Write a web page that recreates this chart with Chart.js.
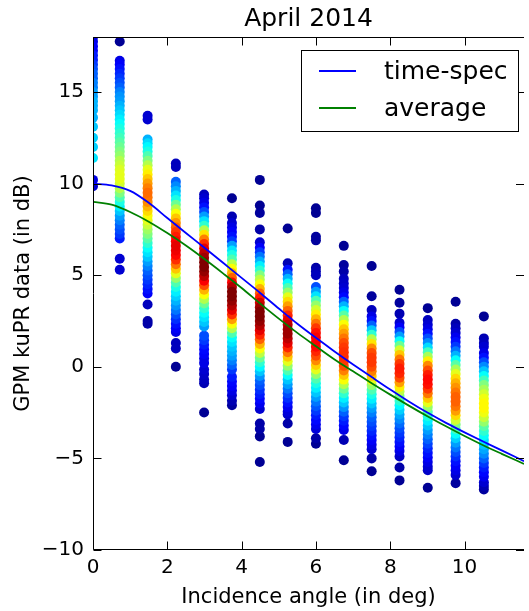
<!DOCTYPE html>
<html>
<head>
<meta charset="utf-8">
<script src="https://cdn.jsdelivr.net/npm/chart.js@4/dist/chart.umd.min.js"></script>
<style>
html,body{margin:0;padding:0;background:#fff;overflow:hidden;}
canvas{display:block;}
</style>
</head>
<body>
<canvas id="c" width="529" height="611"></canvas>
<script>
// ---- data ----
const chartTitle = 'April 2014';
const xLabel = 'Incidence angle (in deg)';
const yLabel = 'GPM kuPR data (in dB)';
const seriesNames = ['time-spec', 'average'];
const xTicks = [0, 2, 4, 6, 8, 10];
const yTicks = [-10, -5, 0, 5, 10, 15];

// incidence angle of each scatter column
const columnAngles = [0, 0.72, 1.47, 2.23, 2.99, 3.74, 4.49, 5.24, 6.0, 6.75, 7.5, 8.25, 9.01, 9.76, 10.52];

// each column: [value in dB, relative point density 0..1]
const col01 = [[18.0,.08],[17.75,.1],[17.5,.12],[17.25,.12],[17.0,.15],[16.75,.15],[16.5,.18],[16.25,.2],[16.0,.22],[15.75,.22],[15.5,.25],[15.25,.25],[15.0,.28],[14.75,.28],[14.5,.3],[14.25,.3],[14.0,.3],[13.6,.3],[13.1,.32],[12.5,.33],[12.0,.33],[11.4,.35],[10.2,.1],[9.85,.08]];
const col02 = [[17.75,.02],[16.7,.1],[16.5,.12],[16.25,.14],[16.0,.16],[15.75,.18],[15.5,.2],[15.25,.22],[15.0,.25],[14.75,.27],[14.5,.28],[14.25,.3],[14.0,.32],[13.75,.34],[13.5,.36],[13.25,.38],[13.0,.4],[12.75,.42],[12.5,.44],[12.25,.46],[12.0,.48],[11.75,.5],[11.5,.52],[11.25,.55],[11.0,.57],[10.75,.59],[10.5,.6],[10.25,.6],[10.0,.58],[9.75,.55],[9.5,.5],[9.25,.45],[9.0,.4],[8.75,.36],[8.5,.32],[8.25,.28],[8.0,.25],[7.75,.22],[7.5,.2],[7.25,.18],[7.0,.15],[5.9,.08],[5.3,.08]];
const col03 = [[13.7,.08],[13.5,.08],[12.4,.3],[12.2,.34],[12.0,.37],[11.75,.4],[11.5,.45],[11.25,.5],[11.0,.55],[10.75,.6],[10.5,.64],[10.25,.68],[10.0,.72],[9.75,.75],[9.5,.77],[9.25,.76],[9.0,.74],[8.75,.7],[8.5,.66],[8.25,.62],[8.0,.6],[7.75,.57],[7.5,.53],[7.25,.5],[7.0,.46],[6.75,.42],[6.5,.38],[6.25,.35],[6.0,.32],[5.75,.28],[5.5,.25],[5.25,.22],[5.0,.2],[4.75,.18],[4.5,.16],[4.25,.14],[4.0,.12],[3.4,.06],[2.5,.04],[2.35,.04]];
const col04 = [[11.1,.06],[10.9,.06],[10.1,.22],[9.85,.26],[9.6,.3],[9.35,.35],[9.1,.4],[8.85,.48],[8.6,.55],[8.35,.62],[8.1,.68],[7.85,.73],[7.6,.78],[7.35,.82],[7.1,.85],[6.85,.88],[6.6,.9],[6.35,.89],[6.1,.87],[5.85,.83],[5.6,.76],[5.35,.68],[5.1,.6],[4.85,.52],[4.6,.45],[4.35,.4],[4.1,.36],[3.85,.33],[3.6,.3],[3.35,.27],[3.1,.24],[2.85,.2],[2.6,.17],[2.35,.14],[2.1,.12],[1.9,.1],[1.3,.06],[1.0,.06],[0.0,.02]];
const col05 = [[9.4,.06],[9.2,.08],[8.95,.1],[8.7,.14],[8.45,.2],[8.2,.28],[7.95,.35],[7.7,.42],[7.45,.55],[7.2,.65],[6.95,.75],[6.7,.83],[6.45,.9],[6.2,.94],[5.95,.97],[5.7,1.0],[5.45,1.0],[5.2,.98],[4.95,.94],[4.7,.88],[4.45,.8],[4.2,.7],[3.95,.62],[3.7,.55],[3.45,.48],[3.2,.42],[2.95,.38],[2.7,.35],[2.45,.32],[2.2,.28],[1.7,.2],[1.45,.18],[1.2,.15],[0.95,.13],[0.7,.12],[0.45,.1],[0.2,.1],[-0.15,.08],[-0.4,.07],[-0.7,.06],[-0.9,.05],[-2.5,.02]];
const col06 = [[9.2,.02],[8.2,.05],[7.85,.08],[7.6,.1],[7.35,.12],[7.1,.14],[6.85,.18],[6.6,.28],[6.35,.35],[6.1,.4],[5.85,.45],[5.6,.55],[5.35,.62],[5.1,.7],[4.85,.78],[4.6,.88],[4.35,.95],[4.1,1.0],[3.85,1.0],[3.6,.98],[3.35,.95],[3.1,.9],[2.85,.83],[2.6,.72],[2.35,.62],[2.1,.55],[1.85,.45],[1.6,.38],[1.35,.35],[1.1,.32],[0.85,.3],[0.6,.28],[0.35,.25],[0.1,.22],[-0.15,.18],[-0.55,.15],[-0.8,.13],[-1.05,.12],[-1.3,.1],[-1.55,.08],[-1.85,.05],[-2.1,.03]];
const col07 = [[10.2,.02],[8.8,.02],[8.4,.03],[7.5,.04],[6.8,.08],[6.5,.12],[6.25,.18],[6.0,.24],[5.75,.3],[5.5,.36],[5.25,.42],[5.0,.5],[4.75,.56],[4.5,.62],[4.25,.7],[4.0,.78],[3.75,.85],[3.5,.92],[3.25,.97],[3.0,1.0],[2.75,1.0],[2.5,.98],[2.25,.95],[2.0,.9],[1.75,.84],[1.5,.78],[1.25,.7],[1.0,.62],[0.75,.56],[0.5,.48],[0.25,.42],[0.0,.37],[-0.25,.32],[-0.5,.27],[-0.75,.22],[-1.0,.2],[-1.25,.17],[-1.5,.15],[-1.75,.13],[-2.0,.11],[-2.3,.08],[-3.1,.04],[-3.4,.04],[-3.8,.02],[-5.2,.02]];
const col08 = [[7.55,.02],[5.65,.05],[5.3,.14],[5.05,.22],[4.8,.3],[4.55,.38],[4.3,.45],[4.05,.52],[3.8,.6],[3.55,.66],[3.3,.72],[3.05,.78],[2.8,.84],[2.55,.9],[2.3,.94],[2.05,.97],[1.8,.97],[1.55,.94],[1.3,.9],[1.05,.84],[0.8,.76],[0.55,.68],[0.3,.6],[0.05,.52],[-0.2,.45],[-0.45,.38],[-0.7,.32],[-0.95,.28],[-1.2,.24],[-1.45,.2],[-1.7,.17],[-1.95,.14],[-2.2,.11],[-2.45,.09],[-2.6,.07],[-3.1,.04],[-4.1,.02]];
const col09 = [[8.65,.02],[8.4,.02],[7.1,.03],[6.9,.03],[5.4,.04],[5.2,.05],[5.0,.06],[4.35,.2],[4.1,.28],[3.85,.35],[3.6,.45],[3.35,.52],[3.1,.58],[2.85,.64],[2.6,.7],[2.35,.76],[2.1,.82],[1.85,.86],[1.6,.88],[1.35,.88],[1.1,.87],[0.85,.84],[0.6,.8],[0.35,.74],[0.1,.67],[-0.15,.6],[-0.4,.52],[-0.65,.45],[-0.9,.4],[-1.15,.36],[-1.4,.32],[-1.65,.28],[-1.9,.24],[-2.15,.21],[-2.4,.18],[-2.65,.15],[-2.9,.13],[-3.15,.11],[-3.4,.09],[-3.9,.04],[-4.2,.02]];
const col10 = [[6.6,.02],[5.55,.03],[5.2,.04],[4.8,.06],[4.55,.07],[4.3,.08],[4.05,.1],[3.8,.13],[3.55,.22],[3.3,.3],[3.05,.38],[2.8,.46],[2.55,.55],[2.3,.62],[2.05,.68],[1.8,.72],[1.55,.76],[1.3,.8],[1.05,.82],[0.8,.83],[0.55,.83],[0.3,.82],[0.05,.8],[-0.2,.75],[-0.45,.68],[-0.7,.62],[-0.95,.55],[-1.2,.48],[-1.45,.42],[-1.7,.36],[-1.95,.32],[-2.2,.27],[-2.45,.22],[-2.7,.18],[-2.95,.15],[-3.2,.13],[-3.45,.1],[-4.0,.05],[-5.1,.02]];
const col11 = [[5.5,.02],[3.85,.03],[3.1,.06],[2.75,.1],[2.5,.14],[2.25,.22],[2.0,.32],[1.75,.42],[1.5,.55],[1.25,.65],[1.0,.74],[0.75,.8],[0.5,.82],[0.25,.82],[0.0,.8],[-0.25,.75],[-0.5,.68],[-0.75,.6],[-1.0,.52],[-1.25,.45],[-1.5,.4],[-1.75,.36],[-2.0,.32],[-2.25,.28],[-2.5,.25],[-2.75,.22],[-3.0,.2],[-3.25,.18],[-3.5,.16],[-3.75,.14],[-4.0,.12],[-4.25,.1],[-4.5,.08],[-5.0,.04],[-5.7,.02]];
const col12 = [[4.2,.02],[3.5,.03],[2.9,.05],[2.4,.08],[2.15,.12],[1.9,.2],[1.65,.28],[1.4,.38],[1.15,.48],[0.9,.58],[0.65,.68],[0.4,.76],[0.15,.82],[-0.1,.85],[-0.35,.84],[-0.6,.8],[-0.85,.72],[-1.1,.64],[-1.35,.56],[-1.6,.48],[-1.85,.42],[-2.1,.37],[-2.35,.33],[-2.6,.29],[-2.85,.26],[-3.1,.23],[-3.35,.2],[-3.6,.18],[-3.85,.16],[-4.1,.14],[-4.35,.12],[-4.6,.1],[-4.9,.07],[-5.5,.04],[-6.2,.02]];
const col13 = [[3.2,.02],[2.55,.06],[2.3,.08],[2.05,.1],[1.8,.14],[1.55,.2],[1.3,.26],[1.05,.34],[0.8,.44],[0.55,.54],[0.3,.64],[0.05,.74],[-0.2,.8],[-0.45,.85],[-0.7,.87],[-0.95,.86],[-1.2,.82],[-1.45,.76],[-1.7,.68],[-1.95,.6],[-2.2,.52],[-2.45,.45],[-2.7,.4],[-2.95,.36],[-3.2,.32],[-3.45,.28],[-3.7,.25],[-3.95,.22],[-4.2,.19],[-4.45,.16],[-4.7,.14],[-4.95,.12],[-5.2,.1],[-5.45,.08],[-5.65,.07],[-6.6,.02]];
const col14 = [[3.55,.02],[2.35,.04],[2.1,.06],[1.85,.08],[1.6,.11],[1.35,.14],[1.1,.18],[0.85,.24],[0.6,.3],[0.35,.38],[0.1,.46],[-0.15,.54],[-0.4,.6],[-0.65,.66],[-0.9,.7],[-1.15,.73],[-1.4,.76],[-1.65,.78],[-1.9,.78],[-2.15,.76],[-2.4,.72],[-2.65,.66],[-2.9,.58],[-3.15,.5],[-3.4,.44],[-3.65,.38],[-3.9,.33],[-4.15,.28],[-4.4,.24],[-4.65,.2],[-4.9,.17],[-5.15,.14],[-5.4,.12],[-5.65,.1],[-5.9,.08],[-6.35,.03]];
const col15 = [[2.75,.02],[1.55,.05],[1.3,.06],[1.1,.08],[0.75,.1],[0.5,.14],[0.25,.2],[0.0,.26],[-0.25,.32],[-0.5,.38],[-0.75,.44],[-1.0,.5],[-1.25,.54],[-1.5,.58],[-1.75,.61],[-2.0,.63],[-2.25,.63],[-2.5,.61],[-2.75,.57],[-3.0,.52],[-3.25,.46],[-3.5,.42],[-3.75,.38],[-4.0,.35],[-4.25,.32],[-4.5,.29],[-4.75,.26],[-5.0,.22],[-5.25,.18],[-5.5,.15],[-5.75,.13],[-6.0,.11],[-6.3,.08],[-6.5,.05],[-6.7,.03]];
const columns = [col01,col02,col03,col04,col05,col06,col07,col08,col09,col10,col11,col12,col13,col14,col15];

// fitted curves
const lineAngles = [0,0.5,1,1.5,2,2.5,3,3.5,4,4.5,5,5.5,6,6.5,7,7.5,8,8.5,9,9.5,10,10.5,11,11.6];
const timeSpec  = [10.0,9.9,9.6,8.95,8.12,7.3,6.5,5.68,4.85,4.03,3.18,2.35,1.58,0.84,0.13,-0.56,-1.24,-1.89,-2.5,-3.06,-3.58,-4.08,-4.56,-5.15];
const average   = [9.0,8.85,8.45,7.92,7.3,6.62,5.88,5.1,4.3,3.45,2.63,1.85,1.12,0.4,-0.25,-0.9,-1.52,-2.12,-2.7,-3.25,-3.78,-4.28,-4.75,-5.3];

// ---- build ----
function jet(v){
  const c = t => Math.max(0, Math.min(1, t));
  const r = c(1.5 - Math.abs(4*v - 3)), g = c(1.5 - Math.abs(4*v - 2)), b = c(1.5 - Math.abs(4*v - 1));
  return 'rgb(' + Math.round(r*255) + ',' + Math.round(g*255) + ',' + Math.round(b*255) + ')';
}
const pts = [];
columns.forEach((col, i) => col.forEach(p => pts.push({x: columnAngles[i], y: p[0], d: p[1]})));
pts.sort((a, b) => a.d - b.d);
const ptColors = pts.map(p => jet(p.d));

const FONT = 'DejaVu Sans';
const lineColors = ['#0000ff', '#008000'];

const framePlugin = {
  id: 'frame',
  afterDraw(chart) {
    const ctx = chart.ctx, a = chart.chartArea;
    const xs = chart.scales.x, ys = chart.scales.y;
    const L = Math.round(a.left) + 0.5;
    const T = Math.round(a.top) + 0.5, B = Math.round(a.bottom) - 0.5;
    ctx.save();
    ctx.strokeStyle = '#000';
    ctx.lineWidth = 1;
    ctx.beginPath();
    ctx.moveTo(L, T); ctx.lineTo(a.right, T);
    ctx.moveTo(L, T); ctx.lineTo(L, B);
    ctx.moveTo(L, B); ctx.lineTo(a.right, B);
    // inward tick marks
    const tl = 8;
    xs.ticks.forEach(t => {
      const px = Math.round(xs.getPixelForValue(t.value)) + 0.5;
      ctx.moveTo(px, B); ctx.lineTo(px, B - tl);
      ctx.moveTo(px, T); ctx.lineTo(px, T + tl);
    });
    ys.ticks.forEach(t => {
      const py = Math.round(ys.getPixelForValue(t.value)) + 0.5;
      ctx.moveTo(L, py); ctx.lineTo(L + tl, py);
      ctx.moveTo(a.right, py); ctx.lineTo(a.right - tl, py);
    });
    ctx.stroke();

    // legend
    const bx = 301.5, by = 50.5, bw = 217, bh = 81;
    ctx.fillStyle = '#fff';
    ctx.fillRect(bx, by, bw, bh);
    ctx.strokeRect(bx, by, bw, bh);
    const rows = [71, 108];
    ctx.font = '25px "' + FONT + '"';
    ctx.textBaseline = 'middle';
    ctx.textAlign = 'left';
    [0, 1].forEach(i => {
      const ds = chart.data.datasets[i];
      ctx.strokeStyle = ds.borderColor;
      ctx.lineWidth = 1.8;
      ctx.beginPath();
      ctx.moveTo(319, rows[i]); ctx.lineTo(356, rows[i]);
      ctx.stroke();
      ctx.fillStyle = '#000';
      ctx.fillText(ds.label, 384, rows[i] + 1);
    });
    ctx.restore();
  }
};

new Chart(document.getElementById('c'), {
  type: 'scatter',
  data: {
    datasets: [
      {
        label: seriesNames[0], type: 'line',
        data: lineAngles.map((x, i) => ({x, y: timeSpec[i]})),
        borderColor: lineColors[0], borderWidth: 1.8, pointRadius: 0,
        cubicInterpolationMode: 'monotone', fill: false, order: 0
      },
      {
        label: seriesNames[1], type: 'line',
        data: lineAngles.map((x, i) => ({x, y: average[i]})),
        borderColor: lineColors[1], borderWidth: 1.8, pointRadius: 0,
        cubicInterpolationMode: 'monotone', fill: false, order: 1
      },
      {
        label: 'GPM kuPR', data: pts,
        pointBackgroundColor: ptColors, pointBorderWidth: 0, pointBorderColor: 'rgba(0,0,0,0)',
        pointRadius: 5, order: 2
      }
    ]
  },
  options: {
    responsive: false,
    animation: false,
    devicePixelRatio: 1,
    layout: {padding: 0},
    plugins: {
      legend: {display: false},
      tooltip: {enabled: false},
      title: {
        display: true, text: chartTitle, fullSize: false, color: '#000',
        font: {family: FONT, size: 25, weight: 'normal'},
        padding: {top: 4, bottom: 3}
      }
    },
    scales: {
      x: {
        type: 'linear', min: 0, max: 11.6,
        afterBuildTicks: s => { s.ticks = xTicks.map(v => ({value: v})); },
        afterFit: s => { s.height = 61; },
        ticks: {
          color: '#000', font: {family: FONT, size: 20}, padding: 6,
          maxRotation: 0, autoSkip: false, callback: v => String(v)
        },
        grid: {display: false, drawTicks: false},
        border: {display: false},
        title: {
          display: true, text: xLabel, color: '#000',
          font: {family: FONT, size: 21}, padding: {top: 0, bottom: 1}
        }
      },
      y: {
        type: 'linear', min: -10, max: 18,
        afterBuildTicks: s => { s.ticks = yTicks.map(v => ({value: v})); },
        afterFit: s => { s.width = 93; },
        ticks: {
          color: '#000', font: {family: FONT, size: 20}, padding: 9,
          callback: v => String(v).replace('-', '\u2212')
        },
        grid: {display: false, drawTicks: false},
        border: {display: false},
        title: {
          display: true, text: yLabel, color: '#000',
          font: {family: FONT, size: 21}, padding: {top: 11, bottom: 0}
        }
      }
    }
  },
  plugins: [framePlugin]
});
</script>
</body>
</html>
